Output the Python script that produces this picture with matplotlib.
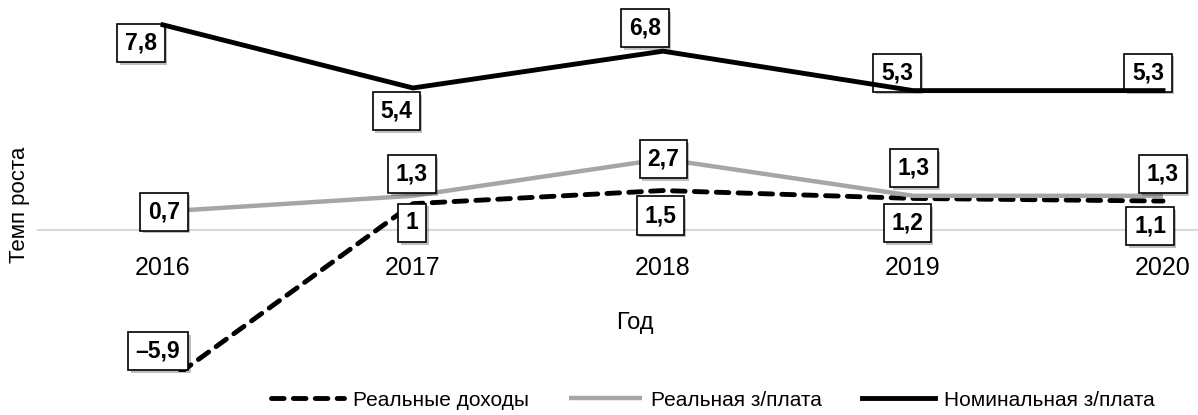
import matplotlib
matplotlib.use("Agg")
import matplotlib.pyplot as plt
import matplotlib.patheffects as pe

plt.rcParams['font.family'] = ['Liberation Sans', 'DejaVu Sans']

# data
years = ['2016', '2017', '2018', '2019', '2020']
real_income = [-5.9, 1, 1.5, 1.2, 1.1]
real_wage = [0.7, 1.3, 2.7, 1.3, 1.3]
nominal_wage = [7.8, 5.4, 6.8, 5.3, 5.3]
series_names = ['Реальные доходы', 'Реальная з/плата', 'Номинальная з/плата']

# label box offsets from the point, in pixels
off_income = [(-5, 34), (-1, -19), (-3, -25), (-6, -25), (-13, -25)]
off_real = [(1, 0), (-1, 22), (0, 0), (1, 28), (0, 22)]
off_nominal = [(-22, -18), (-17, -23), (-18, 23), (-16, 18), (-15, 18)]

fig = plt.figure(figsize=(11.98, 4.15), dpi=100)
ax = fig.add_axes([38 / 1198, 43 / 415, 1160 / 1198, 367 / 415])
x = list(range(len(years)))

l_inc, = ax.plot(x, real_income, color='black', lw=3.5, ls=(0, (2.6, 1.9)),
                 dash_capstyle='round', zorder=2, label=series_names[0])
l_real, = ax.plot(x, real_wage, color='#A6A6A6', lw=3.2, zorder=2,
                  solid_capstyle='butt', label=series_names[1])
l_nom, = ax.plot(x, nominal_wage, color='black', lw=3.5, zorder=4,
                 label=series_names[2])


def fmt(v):
    return f"{v:g}".replace('.', ',').replace('-', '–')


def put_labels(vals, offs):
    for xi, v, (dx, dy) in zip(x, vals, offs):
        t = ax.annotate(fmt(v), (xi, v), xytext=(dx, dy), textcoords='offset pixels',
                        ha='center', va='center', fontsize=16.5, fontweight='bold',
                        annotation_clip=False, zorder=3,
                        bbox=dict(boxstyle='square,pad=0.33', fc='white', ec='black', lw=1.2))
        t.get_bbox_patch().set_path_effects(
            [pe.withSimplePatchShadow(offset=(2, -2), shadow_rgbFace='black', alpha=0.25)])


put_labels(real_income, off_income)
put_labels(real_wage, off_real)
put_labels(nominal_wage, off_nominal)

ax.set_xlim(-0.5, 4.14)
ax.set_ylim(-5.40, 8.555)
for s in ['top', 'left', 'right']:
    ax.spines[s].set_visible(False)
ax.spines['bottom'].set_position(('data', 0))
ax.spines['bottom'].set_color('#D9D9D9')
ax.spines['bottom'].set_linewidth(1.5)
ax.spines['bottom'].set_zorder(1)
ax.set_yticks([])
ax.set_xticks(x, years)
ax.tick_params(axis='x', length=0, pad=19, labelsize=18)
ax.patch.set_visible(False)

fig.text(635 / 1198, 1 - 323 / 415, 'Год', ha='center', va='center', fontsize=17)
fig.text(20 / 1198, 1 - 205 / 415, 'Темп роста', ha='center', va='center',
         rotation=90, fontsize=16)

fig.legend(handles=[l_inc, l_real, l_nom], ncol=3, loc='center',
           bbox_to_anchor=(713 / 1198, 1 - 400 / 415), frameon=False, fontsize=15,
           handlelength=3.5, handletextpad=0.45, columnspacing=1.9)

fig.savefig('out.png', dpi=100)
